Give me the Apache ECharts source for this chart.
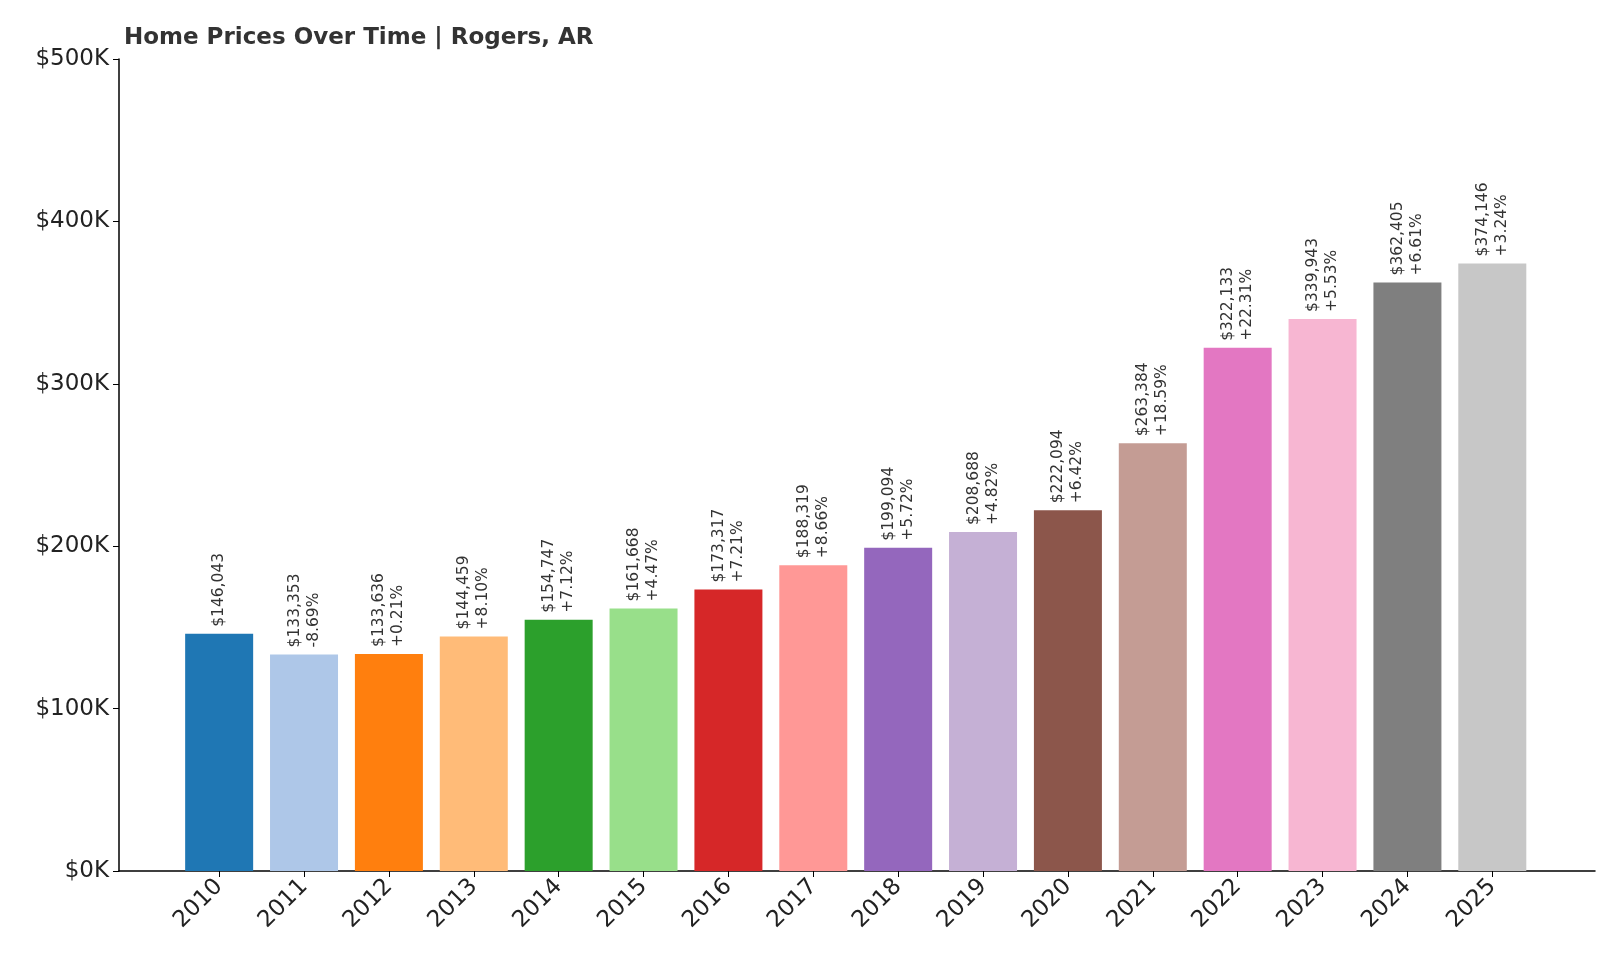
<!DOCTYPE html>
<html>
<head>
<meta charset="utf-8">
<script src="https://cdn.jsdelivr.net/npm/echarts@6/dist/echarts.min.js"></script>
<style>html,body{margin:0;padding:0;background:#fff}#chart{width:1600px;height:960px}</style>
</head>
<body>
<div id="chart"></div>
<script>
const years = [2010, 2011, 2012, 2013, 2014, 2015, 2016, 2017, 2018, 2019, 2020, 2021, 2022, 2023, 2024, 2025]
const prices = [146043, 133353, 133636, 144459, 154747, 161668, 173317, 188319, 199094, 208688, 222094, 263384, 322133, 339943, 362405, 374146]
const changes = ['', '-8.69%', '+0.21%', '+8.10%', '+7.12%', '+4.47%', '+7.21%', '+8.66%', '+5.72%', '+4.82%', '+6.42%', '+18.59%', '+22.31%', '+5.53%', '+6.61%', '+3.24%']
const colors = ['#1f77b4', '#aec7e8', '#ff7f0e', '#ffbb78', '#2ca02c', '#98df8a', '#d62728', '#ff9896',
  '#9467bd', '#c5b0d5', '#8c564b', '#c49c94', '#e377c2', '#f7b6d2', '#7f7f7f', '#c7c7c7']

const font = 'DejaVu Sans'
const chart = echarts.init(document.getElementById('chart'))

chart.setOption({
  animation: false,
  title: {
    text: 'Home Prices Over Time | Rogers, AR',
    left: 119,
    top: 22,
    textStyle: { fontFamily: font, fontSize: 23, fontWeight: 'bold', color: '#333' }
  },
  grid: { left: 119, right: 5, top: 59, bottom: 89 },
  xAxis: {
    type: 'value',
    min: 2008.82,
    max: 2026.21,
    splitLine: { show: false },
    axisLine: { lineStyle: { color: '#000', width: 1.5 } },
    axisTick: { show: true, customValues: years, length: 6, lineStyle: { color: '#000' } },
    axisLabel: {
      customValues: years,
      rotate: 45,
      fontFamily: font,
      fontSize: 23,
      color: '#222',
      margin: 12,
      formatter: v => String(v)
    }
  },
  yAxis: {
    type: 'value',
    min: 0,
    max: 500000,
    interval: 100000,
    splitLine: { show: false },
    axisLine: { show: true, lineStyle: { color: '#000', width: 1.5 } },
    axisTick: { show: true, length: 6, lineStyle: { color: '#000' } },
    axisLabel: {
      fontFamily: font,
      fontSize: 23,
      color: '#222',
      margin: 10,
      formatter: v => '$' + v / 1000 + 'K'
    }
  },
  series: [{
    type: 'bar',
    barWidth: 68,
    data: years.map((y, i) => ({
      value: [y, prices[i]],
      itemStyle: { color: colors[i] }
    })),
    label: {
      show: true,
      position: 'top',
      rotate: 90,
      align: 'left',
      verticalAlign: 'middle',
      distance: 7,
      fontFamily: font,
      fontSize: 15.5,
      lineHeight: 19,
      color: '#333',
      formatter: p => {
        const i = p.dataIndex
        const v = '$' + prices[i].toLocaleString('en-US')
        return changes[i] ? v + '\n' + changes[i] : v
      }
    }
  }]
})
</script>
</body>
</html>
